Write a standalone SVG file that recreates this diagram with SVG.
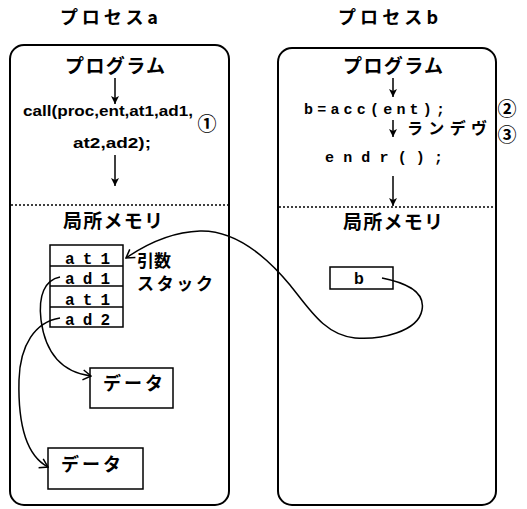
<svg xmlns="http://www.w3.org/2000/svg" width="527" height="509" viewBox="0 0 527 509">
<defs>
<style>
.jp{font-family:"Noto Sans CJK JP","Noto Sans",sans-serif;font-weight:bold;fill:#000}
.cn{font-family:"Noto Sans CJK JP","DejaVu Sans",sans-serif;font-weight:bold;fill:#000}
.sn{font-family:"Liberation Sans",Arial,sans-serif;font-weight:bold;fill:#000}
.mn{font-family:"Liberation Mono","DejaVu Sans Mono",monospace;font-weight:bold;fill:#000}
.box{fill:#fff;stroke:#000;stroke-width:2}
.thin{fill:#fff;stroke:#000;stroke-width:1.5}
.ln{fill:none;stroke:#000;stroke-width:1.5}
.dash{stroke:#000;stroke-width:1.5;stroke-dasharray:2 2}
</style>
<marker id="ah" markerWidth="10" markerHeight="10" refX="9" refY="5" orient="auto" markerUnits="userSpaceOnUse">
<path d="M1,1 L9,5 L1,9 L3,5 Z" fill="#000"/>
</marker>
<marker id="oa" markerWidth="10" markerHeight="12" refX="9" refY="6" orient="auto" markerUnits="userSpaceOnUse">
<path d="M1,1 L9,6 L1,11" fill="none" stroke="#000" stroke-width="1.5"/>
</marker>
</defs>
<rect width="527" height="509" fill="#fff"/>

<g id="titles">
<text class="jp" x="60" y="24" font-size="18" textLength="98" lengthAdjust="spacing">プロセスa</text>
<text class="jp" x="338" y="24" font-size="18" textLength="100" lengthAdjust="spacing">プロセスb</text>
</g>

<g id="process-a">
<rect class="box" x="10" y="45" width="219" height="460" rx="14"/>
<line class="dash" x1="11" y1="205" x2="228" y2="205"/>
<text class="jp" x="65" y="73" font-size="19" textLength="100" lengthAdjust="spacing">プログラム</text>
<text class="sn" x="23" y="116" font-size="14" textLength="170" lengthAdjust="spacingAndGlyphs">call(proc,ent,at1,ad1,</text>
<text class="cn" x="207" y="131" font-size="19" text-anchor="middle">①</text>
<text class="sn" x="73" y="148" font-size="14" textLength="78" lengthAdjust="spacingAndGlyphs">at2,ad2);</text>
<text class="jp" x="63" y="228" font-size="19" textLength="100" lengthAdjust="spacing">局所メモリ</text>
</g>

<g id="stack">
<rect class="thin" x="50" y="245" width="73" height="82"/>
<line class="ln" x1="50" y1="266" x2="123" y2="266"/>
<line class="ln" x1="50" y1="286" x2="123" y2="286"/>
<line class="ln" x1="50" y1="307" x2="123" y2="307"/>
<text class="mn" x="65" y="264" font-size="16" textLength="45" lengthAdjust="spacing">at1</text>
<text class="mn" x="65" y="284" font-size="16" textLength="45" lengthAdjust="spacing">ad1</text>
<text class="mn" x="65" y="305" font-size="16" textLength="45" lengthAdjust="spacing">at1</text>
<text class="mn" x="65" y="325" font-size="16" textLength="45" lengthAdjust="spacing">ad2</text>
<text class="jp" x="137" y="267" font-size="17">引数</text>
<text class="jp" x="137" y="290" font-size="17" textLength="76" lengthAdjust="spacing">スタック</text>
</g>

<g id="data1">
<rect class="thin" x="90" y="368" width="83" height="40"/>
<text class="jp" x="103" y="390" font-size="18" textLength="60" lengthAdjust="spacing">データ</text>
</g>
<g id="data2">
<rect class="thin" x="48" y="448" width="95" height="41"/>
<text class="jp" x="61" y="471" font-size="18" textLength="60" lengthAdjust="spacing">データ</text>
</g>

<g id="process-b">
<rect class="box" x="278" y="48" width="218" height="457" rx="14"/>
<line class="dash" x1="279" y1="207" x2="495" y2="207"/>
<text class="jp" x="343" y="73" font-size="19" textLength="100" lengthAdjust="spacing">プログラム</text>
<text class="mn" x="304" y="114" font-size="15" textLength="141" lengthAdjust="spacing">b=acc(ent);</text>
<text class="jp" x="407" y="134" font-size="16" textLength="80" lengthAdjust="spacing">ランデヴ</text>
<text class="mn" x="325" y="162" font-size="15" textLength="118" lengthAdjust="spacing">endr();</text>
<text class="jp" x="343" y="229" font-size="19" textLength="100" lengthAdjust="spacing">局所メモリ</text>
</g>
<g id="marks-b">
<text class="cn" x="507" y="116" font-size="19" text-anchor="middle">②</text>
<text class="cn" x="507" y="142" font-size="19" text-anchor="middle">③</text>
</g>

<g id="var-b">
<rect class="thin" x="330" y="267" width="63" height="22"/>
<text class="sn" x="354" y="284" font-size="16">b</text>
</g>

<g id="connectors">
<line class="ln" x1="115" y1="78" x2="115" y2="104" marker-end="url(#ah)"/>
<line class="ln" x1="115" y1="155" x2="115" y2="186" marker-end="url(#ah)"/>
<line class="ln" x1="393" y1="78" x2="393" y2="97" marker-end="url(#ah)"/>
<line class="ln" x1="393" y1="120" x2="393" y2="137" marker-end="url(#ah)"/>
<line class="ln" x1="393" y1="176" x2="393" y2="206" marker-end="url(#ah)"/>
<path class="ln" d="M382,278 C402,282 426,290 422,310 C418,332 380,340 355,338 C325,335 310,310 290,285 C265,255 235,230 200,231 C170,232 145,245 126,258" marker-end="url(#oa)"/>
<path class="ln" d="M60,277 C45,280 38,295 41,320 C45,350 60,372 91,376" marker-end="url(#oa)"/>
<path class="ln" d="M60,318 C35,322 20,345 19,380 C18,420 25,455 48,467" marker-end="url(#oa)"/>
</g>
</svg>
